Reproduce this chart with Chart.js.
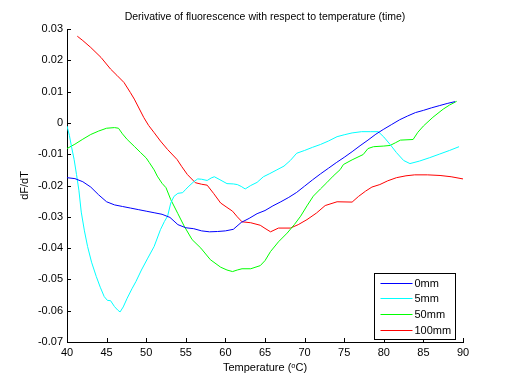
<!DOCTYPE html>
<html>
<head>
<meta charset="utf-8">
<script src="https://cdn.jsdelivr.net/npm/chart.js@4/dist/chart.umd.min.js"></script>
<style>
  html, body { margin: 0; padding: 0; background: #ffffff; }
  #wrap { width: 512px; height: 384px; }
</style>
</head>
<body>
<div id="wrap"><canvas id="c" width="512" height="384"></canvas></div>
<script>
// ---- data ----
const seriesLabels = ['0mm', '5mm', '50mm', '100mm'];
const seriesColors = ['#0000ff', '#00ffff', '#00ff00', '#ff0000'];

const temp0mm = [40, 41, 42, 43, 44, 45, 46, 47, 48, 49, 50, 51, 52, 53, 54, 55, 56, 57, 58, 59, 60, 61, 62, 63, 64, 65, 66, 67, 68, 69, 70, 71, 72, 73, 74, 75, 76, 77, 78, 79, 80, 81, 82, 83, 84, 85, 86, 87, 88, 89];
const dfdt0mm = [-0.0175, -0.0178, -0.0188, -0.0205, -0.0230, -0.0252, -0.0262, -0.0267, -0.0272, -0.0277, -0.0282, -0.0287, -0.0292, -0.0302, -0.0325, -0.0335, -0.0338, -0.0345, -0.0348, -0.0347, -0.0345, -0.0340, -0.0318, -0.0305, -0.0290, -0.0280, -0.0265, -0.0252, -0.0238, -0.0222, -0.0202, -0.0182, -0.0163, -0.0145, -0.0127, -0.0110, -0.0092, -0.0073, -0.0055, -0.0036, -0.0020, -0.0005, 0.0010, 0.0022, 0.0033, 0.0040, 0.0048, 0.0055, 0.0062, 0.0068];

const temp5mm = [40.0, 40.3, 40.6, 40.9, 41.2, 41.5, 41.8, 42.2, 42.6, 43.1, 43.7, 44.2, 44.7, 45.1, 45.5, 46.0, 46.4, 46.7, 47.1, 47.6, 48.2, 48.7, 49.4, 50.2, 51.0, 51.8, 52.3, 52.7, 53.1, 53.5, 54.0, 54.6, 55.0, 55.4, 56.0, 56.5, 57.0, 57.7, 58.2, 58.6, 59.2, 60.2, 61.0, 61.5, 62.0, 62.5, 63.2, 64.0, 64.8, 65.6, 66.5, 67.4, 68.2, 69.0, 70.0, 71.0, 72.0, 73.0, 74.1, 75.0, 76.0, 77.2, 78.3, 79.3, 80.0, 80.8, 81.6, 82.5, 83.3, 84.5, 85.8, 87.0, 88.3, 89.5];
const dfdt5mm = [-0.0010, -0.0040, -0.0080, -0.0117, -0.0165, -0.0215, -0.0285, -0.0345, -0.0395, -0.0445, -0.0491, -0.0525, -0.0555, -0.0567, -0.0568, -0.0587, -0.0598, -0.0604, -0.0588, -0.0560, -0.0530, -0.0507, -0.0470, -0.0432, -0.0395, -0.0341, -0.0315, -0.0298, -0.0256, -0.0235, -0.0225, -0.0223, -0.0212, -0.0202, -0.0188, -0.0179, -0.0180, -0.0184, -0.0176, -0.0172, -0.0180, -0.0194, -0.0195, -0.0197, -0.0203, -0.0211, -0.0200, -0.0190, -0.0172, -0.0162, -0.0150, -0.0138, -0.0120, -0.0097, -0.0088, -0.0078, -0.0069, -0.0058, -0.0044, -0.0038, -0.0032, -0.0028, -0.0028, -0.0028, -0.0045, -0.0069, -0.0095, -0.0120, -0.0130, -0.0122, -0.0111, -0.0100, -0.0088, -0.0076];

const temp50mm = [40, 41, 42, 43, 44, 45, 46, 46.5, 47, 47.6, 48.5, 49.3, 50.0, 50.4, 51.0, 51.4, 52.0, 52.5, 53.1, 54.0, 54.8, 55.8, 56.9, 58.1, 59.4, 60.2, 60.9, 61.5, 62.1, 63.2, 64.4, 65.0, 65.7, 66.7, 67.8, 68.7, 69.5, 70.3, 71.1, 72.0, 72.8, 73.6, 74.5, 74.9, 76.0, 77.4, 78.0, 78.7, 80.0, 80.8, 81.5, 82.1, 83.7, 84.3, 85.0, 86.2, 87.5, 88.3, 89.2];
const dfdt50mm = [-0.0082, -0.0068, -0.0052, -0.0037, -0.0026, -0.0017, -0.0015, -0.0017, -0.0035, -0.0053, -0.0075, -0.0095, -0.0112, -0.0127, -0.0150, -0.0170, -0.0193, -0.0207, -0.0245, -0.0290, -0.0330, -0.0373, -0.0400, -0.0437, -0.0461, -0.0470, -0.0475, -0.0470, -0.0466, -0.0466, -0.0456, -0.0440, -0.0411, -0.0380, -0.0352, -0.0325, -0.0298, -0.0265, -0.0234, -0.0211, -0.0191, -0.0170, -0.0149, -0.0133, -0.0118, -0.0101, -0.0082, -0.0076, -0.0074, -0.0072, -0.0063, -0.0055, -0.0053, -0.0030, -0.0010, 0.0018, 0.0044, 0.0057, 0.0069];

const temp100mm = [41.3, 42.0, 43.0, 44.3, 45.5, 46.3, 47.2, 48.0, 48.5, 49.7, 50.3, 51.0, 51.8, 52.7, 53.9, 54.5, 55.2, 56.2, 57.0, 57.7, 58.5, 59.4, 60.2, 60.9, 61.5, 62.1, 63.2, 64.4, 65.0, 65.7, 66.7, 68.2, 69.2, 70.3, 71.5, 72.6, 74.1, 76.0, 76.8, 77.7, 78.5, 79.5, 80.5, 81.6, 82.8, 83.9, 85.5, 87.1, 88.5, 90.0];
const dfdt100mm = [0.0277, 0.0263, 0.0241, 0.0209, 0.0172, 0.0152, 0.0129, 0.0097, 0.0076, 0.0017, -0.0008, -0.0031, -0.0058, -0.0085, -0.0117, -0.0140, -0.0165, -0.0191, -0.0196, -0.0199, -0.0225, -0.0256, -0.0270, -0.0282, -0.0300, -0.0316, -0.0319, -0.0327, -0.0337, -0.0348, -0.0336, -0.0336, -0.0325, -0.0309, -0.0288, -0.0264, -0.0252, -0.0253, -0.0235, -0.0218, -0.0205, -0.0197, -0.0185, -0.0175, -0.0169, -0.0166, -0.0166, -0.0168, -0.0172, -0.0179];

const xTicks = [40, 45, 50, 55, 60, 65, 70, 75, 80, 85, 90];
const xTickLabels = ['40', '45', '50', '55', '60', '65', '70', '75', '80', '85', '90'];
const yTicks = [-0.07, -0.06, -0.05, -0.04, -0.03, -0.02, -0.01, 0, 0.01, 0.02, 0.03];
const yTickLabels = ['-0.07', '-0.06', '-0.05', '-0.04', '-0.03', '-0.02', '-0.01', '0', '0.01', '0.02', '0.03'];

const titleText = 'Derivative of fluorescence with respect to temperature (time)';
const xTitle = 'Temperature (\u1D52C)';
const yTitle = 'dF/dT';

// ---- build chart ----
const temps = [temp0mm, temp5mm, temp50mm, temp100mm];
const vals = [dfdt0mm, dfdt5mm, dfdt50mm, dfdt100mm];
const datasets = seriesLabels.map((lab, i) => ({
  label: lab,
  data: temps[i].map((t, j) => ({ x: t, y: vals[i][j] })),
  borderColor: seriesColors[i],
  backgroundColor: seriesColors[i],
  borderWidth: 1,
  pointRadius: 0,
  tension: 0,
  fill: false
}));

const FONT = '"Liberation Sans", Arial, Helvetica, sans-serif';
Chart.defaults.font.family = FONT;
Chart.defaults.font.size = 11;
Chart.defaults.color = '#000000';

const innerTicks = {
  id: 'innerTicks',
  afterDatasetsDraw(chart) {
    const { ctx, chartArea, scales } = chart;
    ctx.save();
    ctx.strokeStyle = '#000000';
    ctx.lineWidth = 1;
    ctx.beginPath();
    scales.x.ticks.forEach(t => {
      const px = Math.round(scales.x.getPixelForValue(t.value)) + 0.5;
      ctx.moveTo(px, chartArea.bottom);
      ctx.lineTo(px, chartArea.bottom - 4);
    });
    scales.y.ticks.forEach(t => {
      const py = Math.round(scales.y.getPixelForValue(t.value)) + 0.5;
      ctx.moveTo(chartArea.left, py);
      ctx.lineTo(chartArea.left + 4, py);
    });
    ctx.stroke();
    ctx.restore();
  }
};

const boxLegend = {
  id: 'boxLegend',
  afterDraw(chart) {
    const { ctx, scales } = chart;
    const ds = chart.data.datasets;
    const right = Math.round(scales.x.getPixelForValue(89.0)) + 0.5;
    const bottom = Math.round(scales.y.getPixelForValue(-0.0690)) + 0.5;
    const w = 81, rowH = 15.8, h = 66;
    const left = right - w, top = bottom - h;
    ctx.save();
    ctx.fillStyle = '#ffffff';
    ctx.fillRect(left, top, w, h);
    ctx.strokeStyle = '#000000';
    ctx.lineWidth = 1;
    ctx.strokeRect(left, top, w, h);
    ctx.font = '11px ' + FONT;
    ctx.textBaseline = 'middle';
    ctx.textAlign = 'left';
    ds.forEach((d, i) => {
      const y = Math.round(top + 9 + i * rowH) + 0.5;
      ctx.strokeStyle = d.borderColor;
      ctx.beginPath();
      ctx.moveTo(left + 6, y);
      ctx.lineTo(left + 38, y);
      ctx.stroke();
      ctx.fillStyle = '#000000';
      ctx.fillText(d.label, left + 40, y + 0.5);
    });
    ctx.restore();
  }
};

new Chart(document.getElementById('c'), {
  type: 'line',
  data: { datasets },
  options: {
    responsive: false,
    animation: false,
    devicePixelRatio: 1,
    layout: { padding: { left: 0, right: 49, top: 0, bottom: 0 } },
    plugins: {
      legend: { display: false },
      tooltip: { enabled: false },
      title: {
        display: true,
        fullSize: false,
        text: titleText,
        color: '#000000',
        font: { size: 10.5, weight: 'normal', family: FONT },
        padding: { top: 11, bottom: 5.4 }
      }
    },
    scales: {
      x: {
        type: 'linear',
        min: 40, max: 90,
        afterBuildTicks(scale) { scale.ticks = xTicks.map(v => ({ value: v })); },
        afterFit(scale) { scale.height = 42; },
        ticks: {
          padding: 4,
          maxRotation: 0,
          callback(v) { const k = xTicks.indexOf(v); return k >= 0 ? xTickLabels[k] : ''; }
        },
        grid: { display: true, drawOnChartArea: false, drawTicks: false },
        border: { display: true, color: '#000000', width: 1 },
        title: { display: true, text: xTitle, padding: { top: 0, bottom: 9 }, font: { size: 11 } }
      },
      y: {
        type: 'linear',
        min: -0.07, max: 0.03,
        afterBuildTicks(scale) { scale.ticks = yTicks.map(v => ({ value: v })); },
        afterFit(scale) { scale.width = 67; },
        ticks: {
          padding: 4,
          callback(v) {
            let k = -1;
            yTicks.forEach((t, i) => { if (Math.abs(t - v) < 1e-9) k = i; });
            return k >= 0 ? yTickLabels[k] : '';
          }
        },
        grid: { display: true, drawOnChartArea: false, drawTicks: false },
        border: { display: true, color: '#000000', width: 1 },
        title: { display: true, text: yTitle, padding: { top: 18, bottom: 0 }, font: { size: 11 } }
      }
    }
  },
  plugins: [innerTicks, boxLegend]
});
</script>
</body>
</html>
